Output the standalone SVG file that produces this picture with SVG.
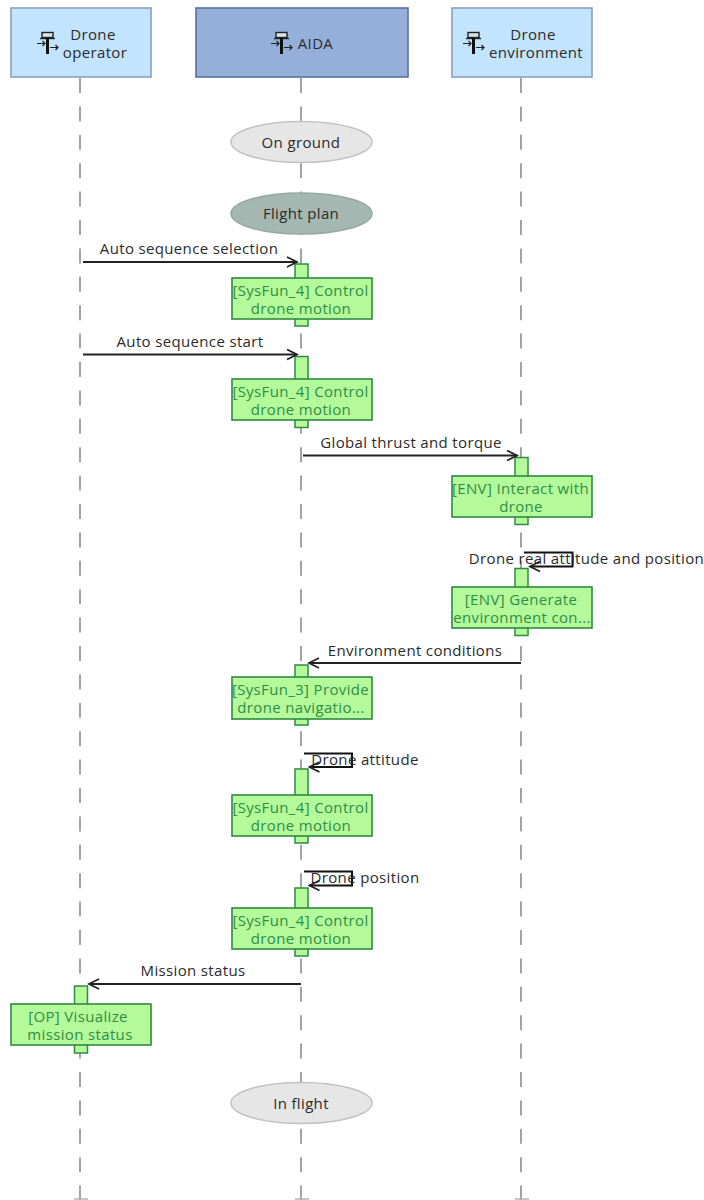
<svg xmlns="http://www.w3.org/2000/svg" width="704" height="1200" viewBox="0 0 704 1200">
<style>
text{font-family:"Open Sans","Noto Sans","Liberation Sans",sans-serif;font-size:15px;letter-spacing:.35px;fill:#2b2b2b;text-anchor:middle}
.life{stroke:#a3a3a3;stroke-width:2;stroke-dasharray:15 13.4;fill:none}
.actor{fill:#c3e4fd;stroke:#8d9fc0;stroke-width:1.6}
.sys{fill:#94b0da;stroke:#5a6fa6;stroke-width:1.6}
.state{fill:#e6e6e6;stroke:#c2c2c2;stroke-width:1.5}
.cur{fill:#a4b8b1;stroke:#94a8a0;stroke-width:1.5}
.exec{fill:#b4f99a;stroke:#2f8a44;stroke-width:1.5}
.fn{fill:#b4f99a;stroke:#2f8a44;stroke-width:1.6}
.fnt{fill:#2f8f45}
.msg{stroke:#222;stroke-width:2;fill:none}
.self{stroke:#111;stroke-width:2;fill:none}
</style>
<defs>
<marker id="arr" markerUnits="userSpaceOnUse" markerWidth="14" markerHeight="12" refX="12" refY="6" orient="auto-start-reverse"><path d="M2 1 L12 6 L2 11" fill="none" stroke="#222" stroke-width="1.8"/></marker>
<g id="ico">
<rect x="5" y="0.5" width="11" height="5" fill="#d8e4ee" stroke="#222" stroke-width="1.4"/>
<path d="M3 6.500H18" stroke="#222" stroke-width="1.400"/>
<path d="M10.500 6V22" stroke="#111" stroke-width="3"/>
<path d="M0 11.500H8M5.500 9L8 11.500L5.500 14M13 15.500H21M18.500 13L21 15.500L18.500 18" stroke="#222" stroke-width="1.200" fill="none"/>
</g>
</defs>

<g id="lifelines">
<path class="life" d="M80 78V1200"/>
<path class="life" d="M301 78V1200"/>
<path class="life" d="M521 78V1200"/>
</g>

<g id="actor-operator"><rect class="actor" x="11" y="8" width="140" height="69"/><use href="#ico" x="37" y="32"/><text x="93" y="40">Drone</text><text x="95" y="58">operator</text></g>
<g id="actor-aida"><rect class="sys" x="196" y="8" width="212" height="69"/><use href="#ico" x="271" y="32"/><text x="315.500" y="49">AIDA</text></g>
<g id="actor-env"><rect class="actor" x="452" y="8" width="140" height="69"/><use href="#ico" x="463" y="32"/><text x="533" y="40">Drone</text><text x="536" y="58">environment</text></g>

<g id="state-on-ground"><ellipse class="state" cx="301.500" cy="142" rx="70.500" ry="20.500"/><text x="301" y="148">On ground</text></g>
<g id="state-flight-plan"><ellipse class="cur" cx="301.500" cy="213.500" rx="70.500" ry="20.500"/><text x="301" y="219">Flight plan</text></g>
<g id="state-in-flight"><ellipse class="state" cx="301.500" cy="1103" rx="70.500" ry="20.500"/><text x="301" y="1109">In flight</text></g>

<g id="fn1"><rect class="exec" x="295" y="264" width="13" height="62"/><rect class="fn" x="232" y="278" width="140" height="41"/><text class="fnt" x="300.500" y="296">[SysFun_4] Control</text><text class="fnt" x="301" y="314">drone motion</text></g>
<g id="fn2"><rect class="exec" x="295" y="356.500" width="13" height="71"/><rect class="fn" x="232" y="379" width="140" height="41"/><text class="fnt" x="300.500" y="397">[SysFun_4] Control</text><text class="fnt" x="301" y="415">drone motion</text></g>
<g id="fn3"><rect class="exec" x="515" y="457.500" width="13" height="67"/><rect class="fn" x="452" y="476" width="140" height="41"/><text class="fnt" x="520.500" y="494">[ENV] Interact with</text><text class="fnt" x="521" y="512">drone</text></g>
<g id="fn4"><rect class="exec" x="515" y="568.500" width="13" height="67"/><rect class="fn" x="452" y="587" width="140" height="41"/><text class="fnt" x="521" y="605">[ENV] Generate</text><text class="fnt" x="522" y="623">environment con...</text></g>
<g id="fn5"><rect class="exec" x="295" y="665" width="13" height="60"/><rect class="fn" x="232" y="677" width="140" height="42"/><text class="fnt" x="300.500" y="695">[SysFun_3] Provide</text><text class="fnt" x="301" y="713">drone navigatio...</text></g>
<g id="fn6"><rect class="exec" x="295" y="769" width="13" height="74"/><rect class="fn" x="232" y="795" width="140" height="41"/><text class="fnt" x="300.500" y="813">[SysFun_4] Control</text><text class="fnt" x="301" y="831">drone motion</text></g>
<g id="fn7"><rect class="exec" x="295" y="888" width="13" height="68"/><rect class="fn" x="232" y="908" width="140" height="41"/><text class="fnt" x="300.500" y="926">[SysFun_4] Control</text><text class="fnt" x="301" y="944">drone motion</text></g>
<g id="fn8"><rect class="exec" x="74.500" y="986" width="13" height="67"/><rect class="fn" x="11" y="1004" width="140" height="41"/><text class="fnt" x="78" y="1022">[OP] Visualize</text><text class="fnt" x="80" y="1040">mission status</text></g>

<g id="connectors">
<path class="msg" d="M83 262H297" marker-end="url(#arr)"/>
<path class="msg" d="M83 354.500H297" marker-end="url(#arr)"/>
<path class="msg" d="M303 455.500H517" marker-end="url(#arr)"/>
<path class="self" d="M524 552.500H572.500V566.500H530" marker-end="url(#arr)"/>
<path class="msg" d="M521 663H309" marker-end="url(#arr)"/>
<path class="self" d="M304 753.500H352V767H309.500" marker-end="url(#arr)"/>
<path class="self" d="M304 871.500H352V885.500H309.500" marker-end="url(#arr)"/>
<path class="msg" d="M301 984H89" marker-end="url(#arr)"/>
</g>

<g id="labels">
<text x="189" y="254">Auto sequence selection</text>
<text x="190" y="347">Auto sequence start</text>
<text x="411" y="448">Global thrust and torque</text>
<text x="586.500" y="564">Drone real attitude and position</text>
<text x="415" y="656">Environment conditions</text>
<text x="365" y="765">Drone attitude</text>
<text x="365" y="883">Drone position</text>
<text x="193" y="976">Mission status</text>
</g>

<g id="bottoms" fill="none" stroke="#b5b5b5" stroke-width="1.500">
<path d="M74 1199H88"/>
<path d="M295 1199H309"/>
<path d="M515 1199H529"/>
</g>
</svg>
